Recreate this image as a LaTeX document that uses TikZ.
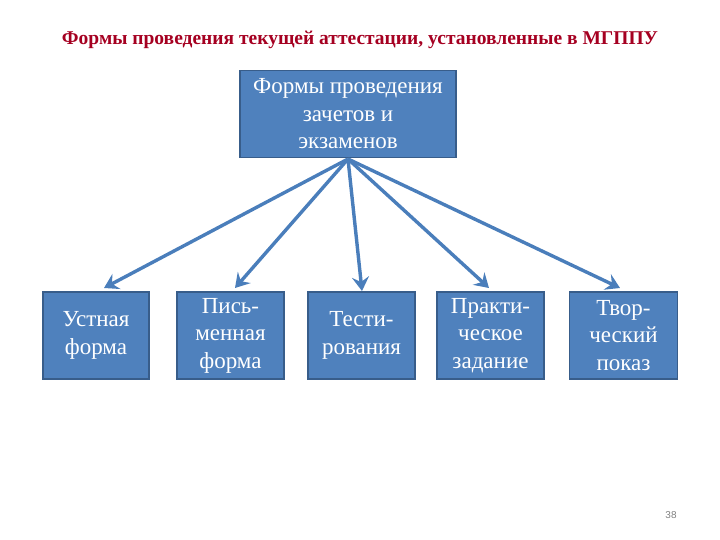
\documentclass[tikz,border=0pt]{standalone}
\usepackage{fontspec}
\setmainfont{Liberation Serif}
\newfontfamily\numfont{Liberation Sans}
\usetikzlibrary{arrows.meta}
\definecolor{boxfill}{HTML}{4F81BD}
\definecolor{boxline}{HTML}{385D8A}
\definecolor{arrowcol}{HTML}{4A7EBB}
\definecolor{titlecol}{HTML}{A50021}
\tikzset{
  formbox/.style={draw=boxline, line width=1.5pt, fill=boxfill, text=white, align=center,
    font=\fontsize{23}{27.5}\selectfont, inner sep=0pt, minimum height=87pt},
  conn/.style={draw=arrowcol, line width=3.4pt, -{Stealth[length=14pt,width=17pt,inset=5pt]}}
}
\begin{document}
\begin{tikzpicture}[x=1pt,y=-1pt]
\useasboundingbox (0,0) rectangle (720,540);
\node[font=\bfseries\fontsize{19.5}{22}\selectfont, text=titlecol] (title) at (360,40) {Формы проведения текущей аттестации, установленные в МГППУ};
\node[formbox, minimum width=216pt] (top) at (348,114) {Формы проведения\\зачетов и\\экзаменов};
\node[formbox, minimum width=106pt] (b1) at (96,335.5) {Устная\\форма};
\node[formbox, minimum width=107pt] (b2) at (230.5,335.5) {Пись-\\менная\\форма};
\node[formbox, minimum width=107pt] (b3) at (361.5,335.5) {Тести-\\рования};
\node[formbox, minimum width=107pt] (b4) at (490.5,335.5) {Практи-\\ческое\\задание};
\node[formbox, minimum width=108pt] (b5) at (623.5,335.5) {Твор-\\ческий\\показ};
\coordinate (s) at (348,159);
\coordinate (e1) at (104,288);
\coordinate (e2) at (235,288);
\coordinate (e3) at (362,291);
\coordinate (e4) at (489,288);
\coordinate (e5) at (620,288);
\foreach \i in {1,...,5} { \draw[conn] (s) -- (e\i); }
\node[font=\fontsize{10}{12}\selectfont\numfont, text=gray] (pg) at (671,515) {38};
\end{tikzpicture}
\end{document}
